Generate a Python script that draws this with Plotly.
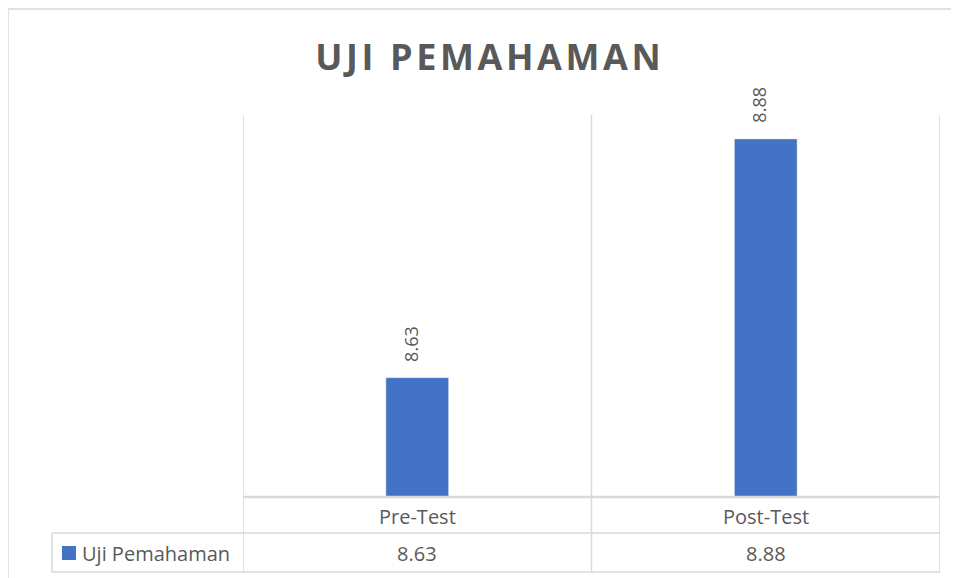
import plotly.graph_objects as go
from decimal import Decimal, ROUND_HALF_UP

categories = ["Pre-Test", "Post-Test"]
series_name = "Uji Pemahaman"
values = [8.625, 8.875]   # bar heights as drawn; shown rounded to 2 decimals (8.63, 8.88)
title_text = "UJI PEMAHAMAN"

# the page places the figure 8px in from the top-left corner
OFF = 8
W, H = 959 - OFF, 578 - OFF
L, R, T, B = 243 - OFF, 940 - OFF, 115 - OFF, 497 - OFF
BAR = "#4472C4"
GRID = "#d9d9d9"
TXT = "#595959"
FONT = "Open Sans"


def fmt(v):
    return str(Decimal(str(v)).quantize(Decimal("0.01"), rounding=ROUND_HALF_UP))


def px(xs):  # screen x -> paper
    return (xs - OFF - L) / (R - L)


def py(ys):  # screen y -> paper
    return (B - (ys - OFF)) / (B - T)


n = len(categories)

fig = go.Figure()
fig.add_trace(go.Bar(x=categories, y=values, marker_color=BAR, width=0.18,
                     name=series_name, showlegend=False, hoverinfo="skip"))

shapes = []
# outer chart border
shapes.append(dict(type="rect", xref="paper", yref="paper", x0=px(8), x1=px(975),
                   y0=py(9), y1=py(595), line=dict(color=GRID, width=1.5), layer="below"))
# vertical grid / table lines at category boundaries
for i in range(n + 1):
    shapes.append(dict(type="line", xref="x", yref="paper", x0=i - 0.5, x1=i - 0.5,
                       y0=py(572), y1=1, line=dict(color=GRID, width=1.5), layer="below"))
# axis line
shapes.append(dict(type="line", xref="x", yref="paper", x0=-0.5, x1=n - 0.5, y0=0, y1=0,
                   line=dict(color=GRID, width=2.5)))
# table horizontal lines
for yy in (533, 572):
    shapes.append(dict(type="line", xref="paper", yref="paper", x0=px(52), x1=1,
                       y0=py(yy), y1=py(yy), line=dict(color=GRID, width=1.5)))
shapes.append(dict(type="line", xref="paper", yref="paper", x0=px(52), x1=px(52),
                   y0=py(533), y1=py(572), line=dict(color=GRID, width=1.5)))
# legend key
shapes.append(dict(type="rect", xref="paper", yref="paper", x0=px(62), x1=px(76),
                   y0=py(546), y1=py(560), fillcolor=BAR, line=dict(width=0)))

annotations = []
for c, v in zip(categories, values):
    annotations.append(dict(x=c, y=v, xref="x", yref="y", text=fmt(v), textangle=-90,
                            showarrow=False, yanchor="bottom", yshift=14, xshift=-7,
                            font=dict(family=FONT, size=18, color=TXT)))
    annotations.append(dict(x=c, y=py(516), xref="x", yref="paper", text=c,
                            showarrow=False, yanchor="middle",
                            font=dict(family=FONT, size=20, color=TXT)))
    annotations.append(dict(x=c, y=py(553), xref="x", yref="paper", text=fmt(v),
                            showarrow=False, yanchor="middle",
                            font=dict(family=FONT, size=20, color=TXT)))
annotations.append(dict(x=px(80), y=py(553), xref="paper", yref="paper", text=series_name,
                        showarrow=False, xanchor="left", yanchor="middle",
                        font=dict(family=FONT, size=20, color=TXT)))

spaced_title = "\u200a".join(title_text)

fig.update_layout(
    width=W, height=H,
    margin=dict(l=L, r=W - R, t=T, b=H - B),
    paper_bgcolor="white", plot_bgcolor="white",
    title=dict(text=f"<b>{spaced_title}</b>", x=(488 - OFF) / W, xanchor="center",
               y=1 - (57 - OFF) / H, yanchor="middle",
               font=dict(family=FONT, size=36, color=TXT)),
    xaxis=dict(type="category", range=[-0.5, n - 0.5], showticklabels=False,
               showgrid=False, zeroline=False, showline=False, fixedrange=True),
    yaxis=dict(range=[8.5, 8.9], visible=False, fixedrange=True),
    shapes=shapes, annotations=annotations,
    showlegend=False,
)

fig.write_html("out.html")
